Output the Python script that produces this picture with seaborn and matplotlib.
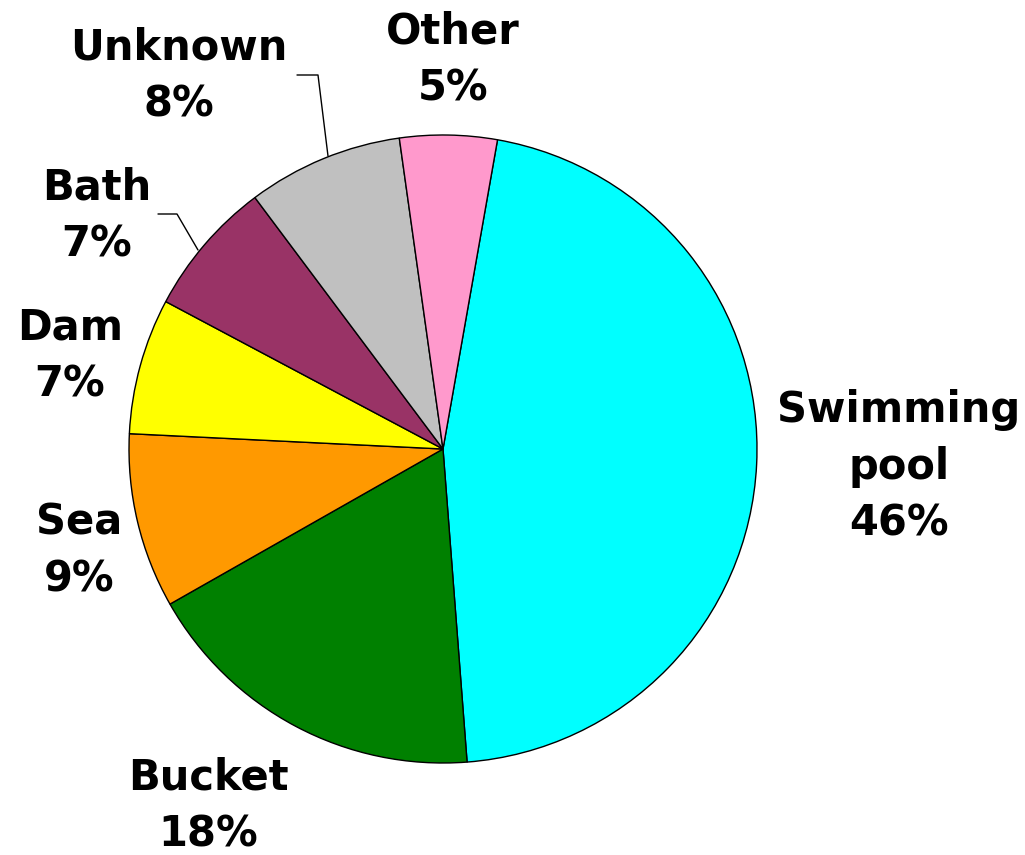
import matplotlib
matplotlib.use("Agg")
import matplotlib.pyplot as plt
import seaborn as sns

sns.set_theme(style="white")
plt.rcParams["font.family"] = ["DejaVu Sans"]

# Data
categories = ["Swimming\npool", "Bucket", "Sea", "Dam", "Bath", "Unknown", "Other"]
shares = [46, 18, 9, 7, 7, 8, 5]
colors = ["#00FFFF", "#008000", "#FF9900", "#FFFF00", "#993366", "#C0C0C0", "#FF99CC"]

W, H = 1025, 855
fig = plt.figure(figsize=(W / 100, H / 100), dpi=100)
ax = fig.add_axes([0, 0, 1, 1])

# pie centre and radius in pixels
cx, cy, r = 443, 449, 314


def px(x, y):
    return (x - cx) / r, (cy - y) / r


wedges, _ = ax.pie(
    shares,
    colors=colors,
    startangle=80,
    counterclock=False,
    radius=1.0,
    wedgeprops=dict(edgecolor="black", linewidth=1.0),
)

ax.set_aspect("auto")
x0, _ = px(0, 0)
x1, _ = px(W, 0)
_, y0 = px(0, H)
_, y1 = px(0, 0)
ax.set_xlim(x0, x1)
ax.set_ylim(y0, y1)
ax.axis("off")

# label block centres (pixels)
label_pos = [(899, 467), (208, 806), (79, 551), (70, 356), (97, 216), (179, 76), (453, 60)]
for name, val, (lx, ly) in zip(categories, shares, label_pos):
    tx, ty = px(lx, ly)
    ax.text(tx, ty, f"{name}\n{val}%", ha="center", va="center",
            multialignment="center", fontsize=30, fontweight="bold",
            color="black", linespacing=1.45)

# leader lines for the two crowded labels
leaders = [
    [(297, 75), (318, 75), (328, 156)],
    [(158, 214), (177, 214), (198, 250)],
]
for pts in leaders:
    xs, ys = zip(*[px(x, y) for x, y in pts])
    ax.plot(xs, ys, color="black", linewidth=1.0)

fig.savefig("out.png", dpi=100, facecolor="white")
